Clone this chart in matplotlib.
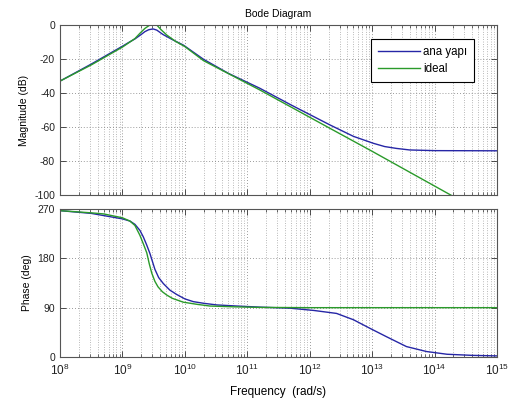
import numpy as np
import matplotlib
matplotlib.use("Agg")
import matplotlib.pyplot as plt
from matplotlib.ticker import LogLocator, NullFormatter

plt.rcParams['font.family'] = ['Liberation Sans', 'DejaVu Sans']
plt.rcParams['mathtext.fontset'] = 'custom'
plt.rcParams['mathtext.rm'] = 'Liberation Sans'
plt.rcParams['font.size'] = 7.5
plt.rcParams['axes.unicode_minus'] = False

# magnitude, log10 of frequency (rad/s) and dB
mag_ana_logf = [8.0, 8.5, 8.88, 9.0, 9.1, 9.2, 9.3, 9.36, 9.42, 9.49, 9.55, 9.65,
                9.8, 9.975, 10.3, 10.7, 11.2, 11.7, 12.325, 12.7, 13.02, 13.2,
                13.39, 13.6, 14.0, 15.0]
mag_ana = [-33, -23, -15, -12.5, -10.3, -8.2, -5.6, -3.9, -2.8, -2.3, -3.0, -5.6,
           -8.6, -11.8, -20.2, -28.5, -37.2, -47.0, -58.8, -65.5, -69.6, -71.5,
           -72.6, -73.5, -73.9, -74.0]

mag_ideal_logf = [8.0, 8.5, 9.0, 9.2, 9.28, 9.36, 9.44, 9.48, 9.55, 9.62, 9.71,
                  9.85, 10.0, 10.3, 11.2, 12.325, 13.0, 14.258, 15.0]
mag_ideal = [-33, -23.5, -13, -8.0, -4.9, -2.0, 0.0, 1.2, 0.0, -2.8, -5.9,
             -9.6, -12.7, -21.0, -38.2, -60.8, -74.3, -100, -115]

# phase in degrees
ph_ana_logf = [8.0, 8.5, 9.0, 9.12, 9.2, 9.28, 9.335, 9.39, 9.44, 9.52, 9.58,
               9.655, 9.76, 9.87, 10.0, 10.135, 10.3, 10.51, 10.83, 11.2, 11.69,
               12.06, 12.43, 12.7, 12.97, 13.23, 13.55, 13.87, 14.2, 14.6, 15.0]
ph_ana = [267, 262, 252, 248, 242, 231, 219, 204, 189, 160, 145,
          134, 122, 114, 106, 101, 98, 95, 93, 91, 89,
          85, 79.5, 68, 52, 37, 19, 10, 5, 3, 2]

ph_ideal_logf = [8.0, 8.5, 8.7, 9.0, 9.12, 9.2, 9.28, 9.34, 9.39, 9.43, 9.47,
                 9.52, 9.57, 9.64, 9.71, 9.8, 9.975, 10.2, 10.4, 10.8, 11.2,
                 12.0, 15.0]
ph_ideal = [267, 263, 261, 254, 248, 240, 222, 205, 190, 170, 153,
            138, 128, 119, 113, 107, 100, 96, 93, 91.5, 90.5,
            90, 90]

blue = '#2626a6'
green = '#2a9a2a'
gridc = '#7a7a7a'

fig = plt.figure(figsize=(5.08, 4.04), dpi=100)
fig.patch.set_facecolor('white')
ax1 = fig.add_axes([60/508, 1-195/404, 437/508, 170/404])
ax2 = fig.add_axes([60/508, 1-357/404, 437/508, 148/404])

ax1.plot(10**np.array(mag_ana_logf), mag_ana, color=blue, lw=1.0, label='ana yapı')
ax1.plot(10**np.array(mag_ideal_logf), mag_ideal, color=green, lw=1.0, label='ideal')
ax2.plot(10**np.array(ph_ana_logf), ph_ana, color=blue, lw=1.0)
ax2.plot(10**np.array(ph_ideal_logf), ph_ideal, color=green, lw=1.0)

for ax in (ax1, ax2):
    ax.set_xscale('log')
    ax.set_xlim(1e8, 1e15)
    ax.xaxis.set_major_locator(LogLocator(base=10, numticks=20))
    ax.xaxis.set_minor_locator(LogLocator(base=10, subs=np.arange(2, 10), numticks=20))
    ax.xaxis.set_minor_formatter(NullFormatter())
    ax.tick_params(which='both', direction='in', top=True, right=True,
                   colors='#333333', labelcolor='#222222')
    ax.tick_params(which='major', length=4, width=0.6)
    ax.tick_params(which='minor', length=2.2, width=0.5)
    ax.grid(True, which='major', axis='both', linestyle=(0, (1, 2.5)), color=gridc, lw=0.6)
    ax.grid(True, which='minor', axis='x', linestyle=(0, (1, 2.5)), color=gridc, lw=0.5)
    for s in ax.spines.values():
        s.set_color('#555555')
        s.set_linewidth(0.8)

ax1.set_ylim(-100, 0)
ax1.set_yticks([-100, -80, -60, -40, -20, 0])
ax1.set_xticklabels([])
ax1.set_ylabel('Magnitude (dB)', labelpad=4)
ax1.set_title('Bode Diagram', pad=6, fontsize=7.5)

ax2.set_ylim(0, 270)
ax2.set_yticks([0, 90, 180, 270])
ax2.set_ylabel('Phase (deg)', labelpad=4)
ax2.set_xlabel('Frequency  (rad/s)', labelpad=6, fontsize=8.5)
ax2.tick_params(axis='x', which='major', labelsize=8.5, pad=4)

leg = ax1.legend(loc='upper left', bbox_to_anchor=(0.712, 0.918), borderaxespad=0,
                 fancybox=False, framealpha=1, edgecolor='black', handlelength=3.6,
                 handletextpad=0.3, borderpad=0.6, labelspacing=0.45, fontsize=8.3)
leg.get_frame().set_linewidth(0.8)

fig.savefig('out.png', dpi=100)
